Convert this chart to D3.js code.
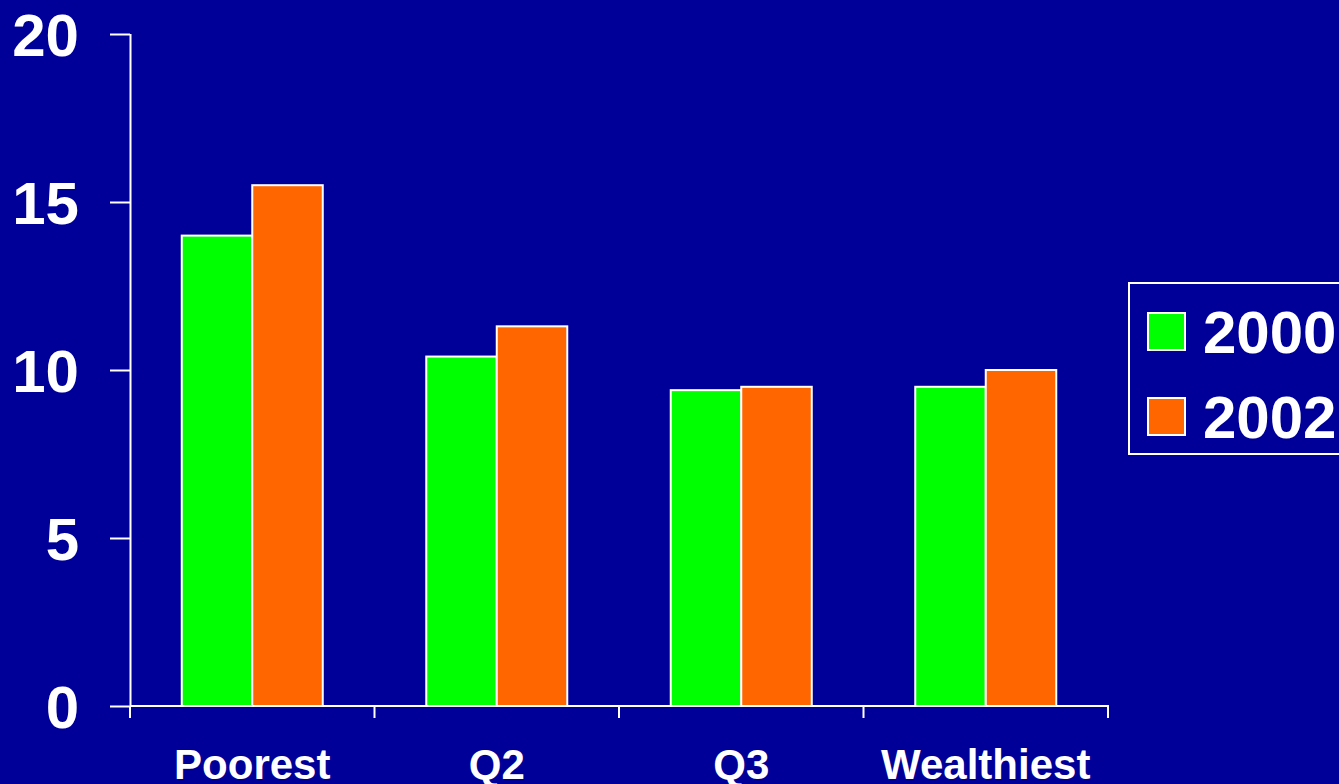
<!DOCTYPE html>
<html>
<head>
<meta charset="utf-8">
<script src="https://cdn.jsdelivr.net/npm/d3@7"></script>
<style>
  html, body { margin: 0; padding: 0; background: #000099; }
  svg { display: block; }
  text { font-family: "Liberation Sans", Arial, sans-serif; font-weight: bold; fill: #ffffff; }
</style>
</head>
<body>
<script>
// Wealth quintiles and the two survey years
const categories = ["Poorest", "Q2", "Q3", "Wealthiest"];
const seriesNames = ["2000", "2002"];
const values2000 = [14.0, 10.4, 9.4, 9.5];
const values2002 = [15.5, 11.3, 9.5, 10.0];
const yTicks = [0, 5, 10, 15, 20];
const seriesColors = ["#00ff00", "#ff6600"];

const W = 1339, H = 784;
const svg = d3.select("body").append("svg").attr("width", W).attr("height", H);
svg.append("rect").attr("width", W).attr("height", H).attr("fill", "#000099");

const plot = { left: 130, right: 1108, top: 34, bottom: 706 };

const y = d3.scaleLinear().domain([0, 20]).range([plot.bottom, plot.top]);
const x = d3.scaleBand().domain(categories).range([plot.left, plot.right]).padding(0);
const xs = d3.scaleBand().domain(seriesNames).range([0, x.bandwidth()])
  .paddingInner(0).paddingOuter(0.734);

const rows = categories.map((c, i) => ({ cat: c, vals: [values2000[i], values2002[i]] }));

// Bars
const groups = svg.append("g").selectAll("g").data(rows).join("g")
  .attr("transform", d => `translate(${x(d.cat)},0)`);
groups.selectAll("rect")
  .data(d => d.vals.map((v, j) => ({ key: seriesNames[j], v, j })))
  .join("rect")
  .attr("x", d => xs(d.key))
  .attr("y", d => y(d.v))
  .attr("width", xs.bandwidth())
  .attr("height", d => y(0) - y(d.v))
  .attr("fill", d => seriesColors[d.j])
  .attr("stroke", "#ffffff")
  .attr("stroke-width", 2);

// Y axis
const yAxis = svg.append("g").attr("transform", `translate(${plot.left},0)`)
  .call(d3.axisLeft(y).tickValues(yTicks).tickFormat(d3.format("d")).tickSize(20).tickPadding(31));
yAxis.select(".domain").attr("stroke", "#fff").attr("stroke-width", 2)
  .attr("d", `M0.5,${plot.top}V${plot.bottom}`);
yAxis.selectAll(".tick line").attr("stroke", "#fff").attr("stroke-width", 2);
yAxis.selectAll(".tick text").attr("font-size", 60).attr("fill", "#fff").attr("dy", "0.35em");

// X axis: ticks sit on the category boundaries
const boundaries = categories.map(c => x(c)).concat([plot.right]);
const xAxis = svg.append("g");
xAxis.append("line").attr("x1", plot.left).attr("x2", plot.right + 1)
  .attr("y1", plot.bottom).attr("y2", plot.bottom)
  .attr("stroke", "#fff").attr("stroke-width", 2);
xAxis.selectAll("line.tk").data(boundaries).join("line").attr("class", "tk")
  .attr("x1", d => d).attr("x2", d => d)
  .attr("y1", plot.bottom).attr("y2", plot.bottom + 12)
  .attr("stroke", "#fff").attr("stroke-width", 2);
xAxis.selectAll("text").data(categories).join("text")
  .attr("x", d => x(d) + x.bandwidth() / 2)
  .attr("y", 779)
  .attr("text-anchor", "middle")
  .attr("font-size", 42)
  .text(d => d);

// Legend
const legend = svg.append("g").attr("transform", "translate(1129,283)");
legend.append("rect").attr("x", 0).attr("y", 0).attr("width", 240).attr("height", 171)
  .attr("fill", "none").attr("stroke", "#fff").attr("stroke-width", 2);
const items = legend.selectAll("g.item").data(seriesNames).join("g").attr("class", "item")
  .attr("transform", (d, i) => `translate(0,${i * 85})`);
items.append("rect").attr("x", 19).attr("y", 30).attr("width", 37).attr("height", 37)
  .attr("fill", (d, i) => seriesColors[i]).attr("stroke", "#fff").attr("stroke-width", 2);
items.append("text").attr("x", 74).attr("y", 70).attr("font-size", 60).text(d => d);
</script>
</body>
</html>
